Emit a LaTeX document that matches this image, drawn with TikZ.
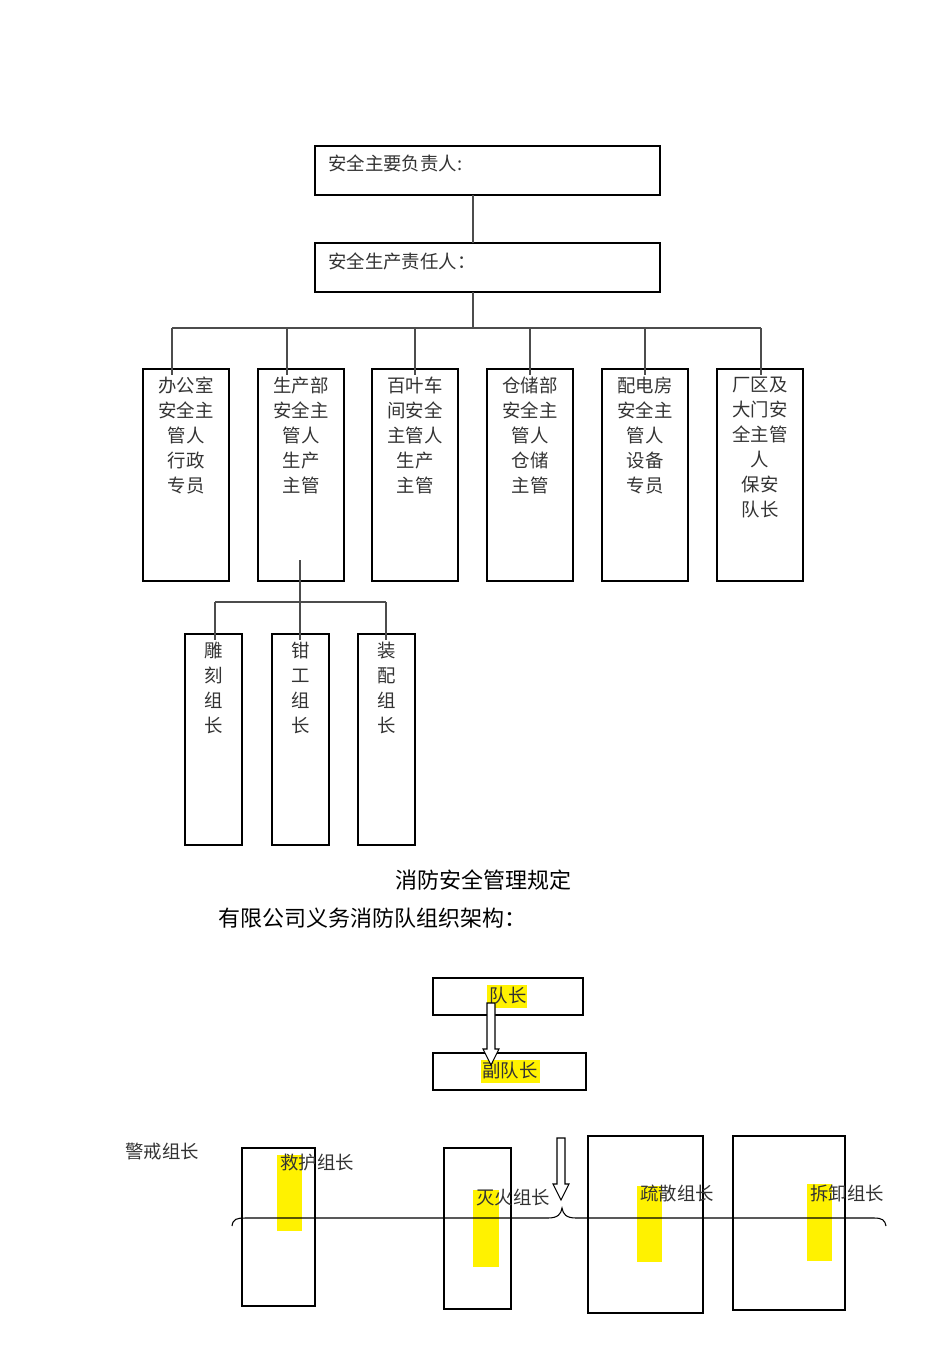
\documentclass[tikz,border=0pt]{standalone}
\usepackage{fontspec}
\setmainfont{Noto Sans CJK SC}
\usetikzlibrary{positioning}
\tikzset{
x=0.75pt, y=-0.75pt,
box/.style={draw, thick, inner sep=0pt}, % the outlined boxes
line/.style={draw=black!70, thick},
txt/.style={font=\fontsize{13.8}{18.75}\selectfont, text=black!80, inner sep=0pt, align=center},
hilite/.style={fill=yellow, draw=none}, % yellow highlight
}
\newcommand{\hollowdown}[3]{% x, top y, bottom y
  \draw[thick, fill=white] (#1-4,#2) -- (#1+4,#2) -- (#1+4,#3-16) -- (#1+8,#3-16)
    -- (#1,#3) -- (#1-8,#3-16) -- (#1-4,#3-16) -- cycle;}

\begin{document}
\begin{tikzpicture}
    \useasboundingbox (0,0) rectangle (950,1345);
    % top of the chart
    \draw[box, line width=1.4pt] (315,146) rectangle (660,195);
    \node[txt, anchor=west] (lead) at (328,163) {安全主要负责人:};
    \draw[box, line width=1.4pt] (315,243) rectangle (660,292);
    \node[txt, anchor=west] (resp) at (328,261) {安全生产责任人：};
    \coordinate (t1) at (473,195);
    \coordinate (t2) at (473,243);
    \coordinate (t3) at (473,292);
    \coordinate (t4) at (473,328);
    \draw[line] (t1) -- (t2) (t3) -- (t4);
    \draw[line] (172,328) -- (761,328);
    % six departments
    \foreach \l/\c/\t in {143/172/办公室\\安全主\\管人\\行政\\专员,
                          258/287/生产部\\安全主\\管人\\生产\\主管,
                          372/415/百叶车\\间安全\\主管人\\生产\\主管,
                          487/530/仓储部\\安全主\\管人\\仓储\\主管,
                          602/645/配电房\\安全主\\管人\\设备\\专员,
                          717/761/厂区及\\大门安\\全主管\\人\\保安\\队长} {
      \draw[box] (\l,369) rectangle (\l+86,581);
      \draw[line] (\c,328) -- (\c,375);
      \node[txt, anchor=north] at (\l+43,377) {\t};
    }
    % group leaders
    \draw[line] (300,560) -- (300,602);
    \draw[line] (215,602) -- (386,602);
    \foreach \l/\c/\t in {185/215/雕\\刻\\组\\长, 272/300/钳\\工\\组\\长, 358/386/装\\配\\组\\长} {
      \draw[box] (\l,634) rectangle (\l+57,845);
      \draw[line] (\c,602) -- (\c,640);
      \node[txt, anchor=north] at (\l+29,642) {\t};
    }
    % headings
    \node[font=\fontsize{16.5}{18}\selectfont] (title) at (483,880) {消防安全管理规定};
    \node[font=\fontsize{16.5}{18}\selectfont, anchor=west, inner sep=0pt] (org) at (218,918) {有限公司义务消防队组织架构：};
    % fire brigade
    \fill[hilite] (487,985) rectangle (527,1008);
    \fill[hilite] (481,1060) rectangle (540,1083);
    \draw[box] (433,978) rectangle (583,1015);
    \draw[box] (433,1053) rectangle (586,1090);
    \node[txt] (chief) at (508,996) {队长};
    \node[txt] (vice) at (510,1071) {副队长};
    \hollowdown{491}{1003}{1065}
    \node[txt, anchor=west] (guard) at (125,1151) {警戒组长};
    \foreach \a/\b/\c/\d in {277/1155/302/1231, 473/1190/499/1267, 637/1186/662/1262, 807/1184/832/1261}
      \fill[hilite] (\a,\b) rectangle (\c,\d);
    \draw[thick] (242,1148) rectangle (315,1306);
    \draw[line width=1.6pt] (242,1148) -- (315,1148) (242,1306) -- (315,1306);
    \draw[thick] (444,1148) rectangle (511,1309);
    \draw[line width=1.6pt] (444,1148) -- (511,1148) (444,1309) -- (511,1309);
    \draw[thick] (588,1136) rectangle (703,1313);
    \draw[thick] (733,1136) rectangle (845,1310);
    \node[txt, anchor=west] (rescue) at (280,1163) {救护组长};
    \node[txt, anchor=west] (fire) at (476,1198) {灭火组长};
    \node[txt, anchor=west] (evac) at (640,1193) {疏散组长};
    \node[txt, anchor=west] (dism) at (810,1193) {拆卸组长};
    % brace
    \draw[thick] (232,1226) .. controls (233,1219) and (236,1218) .. (246,1218) -- (548,1218)
      .. controls (558,1218) and (561,1214) .. (562,1208)
      .. controls (563,1214) and (566,1218) .. (576,1218) -- (874,1218)
      .. controls (882,1218) and (885,1220) .. (886,1226);
    \hollowdown{561}{1138}{1200}
\end{tikzpicture}
\end{document}
